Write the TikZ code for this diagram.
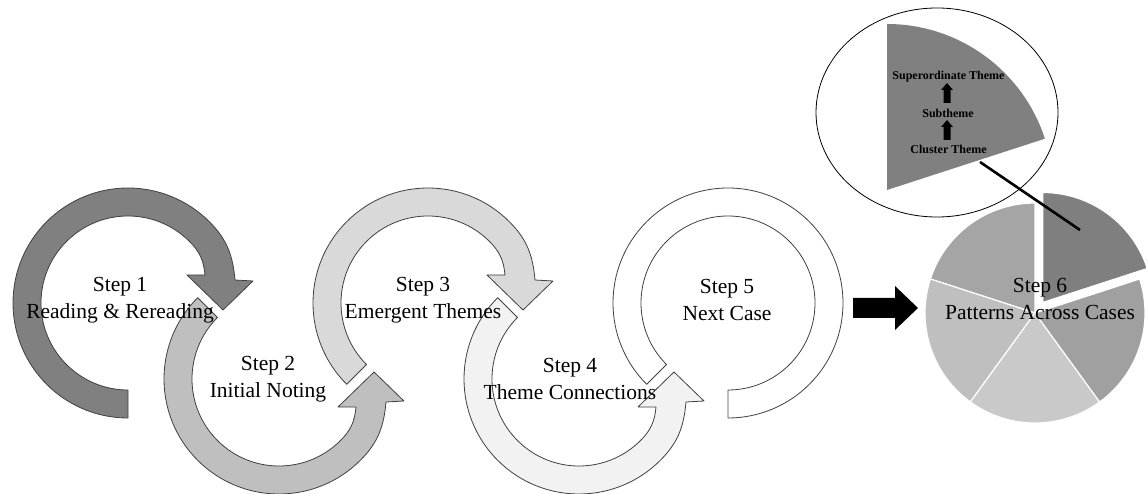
\documentclass[tikz,border=0pt]{standalone}
\usepackage{fontspec}
\setmainfont{Liberation Serif}
\definecolor{edgegray}{RGB}{64,64,64}
\definecolor{ringA}{RGB}{128,128,128}
\definecolor{ringB}{RGB}{191,191,191}
\definecolor{ringC}{RGB}{217,217,217}
\definecolor{ringD}{RGB}{242,242,242}
\definecolor{pieA}{RGB}{165,165,165}
\definecolor{pieB}{RGB}{191,191,191}
\definecolor{pieC}{RGB}{201,201,201}
\definecolor{pieD}{RGB}{160,160,160}
\definecolor{pieE}{RGB}{127,127,127}
\tikzset{
  ringarrow/.style={draw=edgegray, line width=0.8pt, line join=round},
  steplabel/.style={align=center, inner sep=0pt, font=\fontsize{21.5}{27}\selectfont},
  themelabel/.style={inner sep=0pt, font=\fontsize{12}{14}\selectfont\bfseries},
  slicestyle/.style={draw=white, line width=1.2pt, line join=round},
}
% circular block arrow: centre x, centre y, tail angle, orientation (1 or -1), fill
\newcommand\cyclearrow[5]{%
  \pgfmathsetmacro\cyTail{#4*#3}%
  \pgfmathsetmacro\cyEnd{#4*45}%
  \pgfmathsetmacro\cyOutA{#4*(-45)}%
  \pgfmathsetmacro\cyOutB{#4*95}%
  \draw[ringarrow, fill=#5, shift={(#1,#2)}]
    (\cyTail:115pt) arc[start angle=\cyTail, end angle=\cyEnd, radius=115pt]
    to[out=\cyOutA, in=\cyOutB] ({107pt},{#4*23pt})
    -- ({125pt},{#4*22pt}) -- ({95pt},{#4*(-7pt)}) -- ({59pt},{#4*28pt}) -- ({77pt},{#4*28pt})
    to[out=\cyOutB, in=\cyOutA] (\cyEnd:87pt)
    arc[start angle=\cyEnd, end angle=\cyTail, radius=87pt] -- cycle;
}
\begin{document}
\begin{tikzpicture}[x=1pt, y=1pt]
\useasboundingbox (0,0) rectangle (1146,493);

% the cycle of steps
\cyclearrow{128}{190}{270}{1}{ringA}
\cyclearrow{279}{114}{225}{-1}{ringB}
\cyclearrow{428}{190}{225}{1}{ringC}
\cyclearrow{579}{114}{225}{-1}{ringD}
\draw[ringarrow, fill=white, shift={(728,190)}]
  (225:115pt) arc[start angle=225, end angle=-90, radius=115pt]
  -- (-90:87pt) arc[start angle=-90, end angle=225, radius=87pt] -- cycle;

% block arrow towards the pie
\fill[black] (853,175) -- (895,175) -- (895,163) -- (918,185) -- (895,207)
  -- (895,195) -- (853,195) -- cycle;

% pie of cases
\coordinate (pc) at (1035,180);
\coordinate (px) at ([shift={(54:13pt)}]pc);
\foreach \a/\b/\c in {90/162/pieA, 162/234/pieB, 234/306/pieC, 306/378/pieD}
  \filldraw[slicestyle, fill=\c] (pc) -- ++(\a:110pt)
    arc[start angle=\a, end angle=\b, radius=110pt] -- cycle;
\filldraw[slicestyle, fill=pieE] (px) -- ++(18:110pt)
  arc[start angle=18, end angle=90, radius=110pt] -- cycle;

% magnified slice
\draw[black, line width=0.8pt, fill=white] (937,380.5) ellipse[x radius=121pt, y radius=104.5pt];
\coordinate (sc) at (887,303);
\fill[ringA] (sc) -- ++(18:166pt) arc[start angle=18, end angle=90, radius=166pt] -- cycle;
\coordinate (zoomfrom) at (980,331);
\coordinate (zoomto) at (1080,263);
\draw[black, line width=2.6pt] (zoomfrom) -- (zoomto);

% theme hierarchy
\node[themelabel] (sup) at (948.5,416) {Superordinate Theme};
\node[themelabel] (sub) at (948,380) {Subtheme};
\node[themelabel] (clu) at (948.5,344) {Cluster Theme};
\fill[black] (947,410) -- (953,403) -- (950.5,403) -- (950.5,390) -- (943.5,390)
  -- (943.5,403) -- (941,403) -- cycle;
\fill[black] (947,373) -- (953,366) -- (950.5,366) -- (950.5,353) -- (943.5,353)
  -- (943.5,366) -- (941,366) -- cycle;

% step labels
\node[steplabel] (s1) at (120,193) {Step 1\\Reading \& Rereading};
\node[steplabel] (s2) at (268,114) {Step 2\\Initial Noting};
\node[steplabel] (s3) at (423,193) {Step 3\\Emergent Themes};
\node[steplabel] (s4) at (570,114) {Step 4\\Theme Connections};
\node[steplabel] (s5) at (727,193) {Step 5\\Next Case};
\node[steplabel] (s6) at (1040,194) {Step 6\\Patterns Across Cases};
\end{tikzpicture}
\end{document}
